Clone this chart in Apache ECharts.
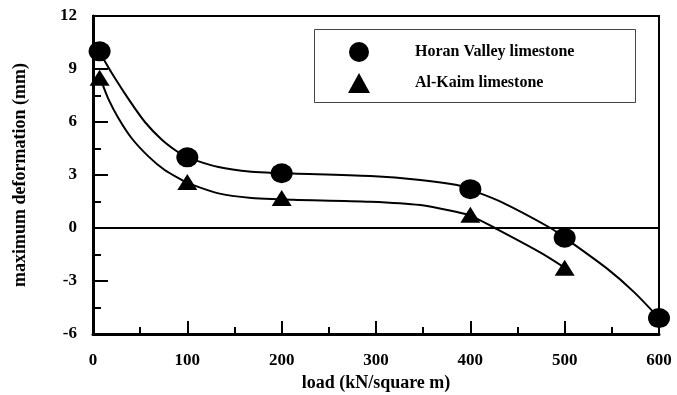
<!DOCTYPE html>
<html>
<head>
<meta charset="utf-8">
<script src="https://cdn.jsdelivr.net/npm/echarts@6/dist/echarts.min.js"></script>
<style>html,body{margin:0;padding:0;background:#fff;}#c{width:677px;height:395px;}</style>
</head>
<body>
<div id="c"></div>
<script>
// Measured points
var horanPtX = [7, 100, 200, 400, 500, 600];
var horanPtY = [10.0, 4.0, 3.1, 2.2, -0.55, -5.1];
var alKaimPtX = [7, 100, 200, 400, 500];
var alKaimPtY = [8.5, 2.6, 1.7, 0.75, -2.25];
// Fitted curves
var horanCurveX = [7, 13, 23, 37, 55, 73, 90, 100, 133, 168, 200, 212, 294, 347, 386, 400, 432, 485, 500, 545, 573, 600];
var horanCurveY = [10.0, 9.4, 8.5, 7.35, 6.0, 5.0, 4.3, 4.0, 3.45, 3.18, 3.1, 3.08, 2.94, 2.72, 2.43, 2.17, 1.49, 0.0, -0.55, -2.3, -3.6, -5.1];
var alKaimCurveX = [7, 9, 16, 27, 41, 59, 76, 94, 100, 133, 168, 200, 212, 294, 347, 386, 400, 426, 474, 500];
var alKaimCurveY = [8.5, 8.28, 7.34, 6.21, 5.08, 4.04, 3.28, 2.72, 2.55, 1.96, 1.7, 1.63, 1.6, 1.49, 1.3, 0.9, 0.7, 0.0, -1.38, -2.25];
var seriesNames = ['Horan Valley limestone', 'Al-Kaim limestone'];
var xTicks = [0, 100, 200, 300, 400, 500, 600];
var yTicks = [-6, -3, 0, 3, 6, 9, 12];

function pairs(xs, ys) { return xs.map(function (x, i) { return [x, ys[i]]; }); }

var font = '"Liberation Serif", "Times New Roman", serif';
var chart = echarts.init(document.getElementById('c'), null, {renderer: 'canvas'});
chart.setOption({
  animation: false,
  backgroundColor: '#ffffff',
  grid: {left: 93, right: 18, top: 16, bottom: 61, outerBoundsMode: 'none', containLabel: false,
         show: true, borderColor: '#000', borderWidth: 2, backgroundColor: 'transparent'},
  xAxis: {
    type: 'value', min: xTicks[0], max: xTicks[xTicks.length - 1], interval: 100,
    name: 'load (kN/square m)', nameLocation: 'middle', nameGap: 32,
    nameTextStyle: {fontFamily: font, fontWeight: 'bold', fontSize: 18, color: '#000'},
    axisLine: {show: true, onZero: false, lineStyle: {color: '#000', width: 3}},
    axisTick: {show: true, inside: true, length: 13, lineStyle: {color: '#000', width: 2}},
    minorTick: {show: true, splitNumber: 2, length: 7, lineStyle: {color: '#000', width: 2}},
    axisLabel: {margin: 18, fontFamily: font, fontWeight: 'bold', fontSize: 17, color: '#000'},
    splitLine: {show: false}
  },
  yAxis: {
    type: 'value', min: yTicks[0], max: yTicks[yTicks.length - 1], interval: 3,
    name: 'maximum deformation (mm)', nameLocation: 'middle', nameGap: 64, nameRotate: 90,
    nameTextStyle: {fontFamily: font, fontWeight: 'bold', fontSize: 18, color: '#000'},
    axisLine: {show: true, onZero: false, lineStyle: {color: '#000', width: 3}},
    axisTick: {show: true, inside: true, length: 15, lineStyle: {color: '#000', width: 2}},
    minorTick: {show: true, splitNumber: 2, length: 8, lineStyle: {color: '#000', width: 2}},
    axisLabel: {margin: 16, padding: [4, 0, 0, 0], fontFamily: font, fontWeight: 'bold', fontSize: 17, color: '#000'},
    splitLine: {show: false}
  },
  legend: {
    data: seriesNames,
    orient: 'vertical', left: 343, top: 37,
    itemWidth: 22, itemHeight: 20, itemGap: 11,
    textStyle: {fontFamily: font, fontWeight: 'bold', fontSize: 16, color: '#000', padding: [0, 0, 0, 40]},
    selectedMode: false
  },
  graphic: [{
    type: 'rect', left: 314, top: 29, z: 0,
    shape: {width: 321, height: 73},
    style: {fill: '#fff', stroke: '#444', lineWidth: 1}
  }],
  series: [
    {
      name: 'Horan Valley fit', type: 'line', data: pairs(horanCurveX, horanCurveY),
      smooth: 0.3, showSymbol: false, symbol: 'none',
      lineStyle: {color: '#000', width: 2}, z: 2,
      markLine: {
        silent: true, symbol: 'none', label: {show: false},
        lineStyle: {color: '#000', width: 2, type: 'solid'},
        data: [{yAxis: 0}]
      }
    },
    {
      name: 'Al-Kaim fit', type: 'line', data: pairs(alKaimCurveX, alKaimCurveY),
      smooth: 0.3, showSymbol: false, symbol: 'none',
      lineStyle: {color: '#000', width: 2}, z: 2
    },
    {
      name: seriesNames[0], type: 'scatter', data: pairs(horanPtX, horanPtY),
      symbol: 'circle', symbolSize: [22, 20], itemStyle: {color: '#000', opacity: 1}, z: 5
    },
    {
      name: seriesNames[1], type: 'scatter', data: pairs(alKaimPtX, alKaimPtY),
      symbol: 'triangle', symbolSize: [20, 16], itemStyle: {color: '#000', opacity: 1}, z: 5
    }
  ]
});
</script>
</body>
</html>
